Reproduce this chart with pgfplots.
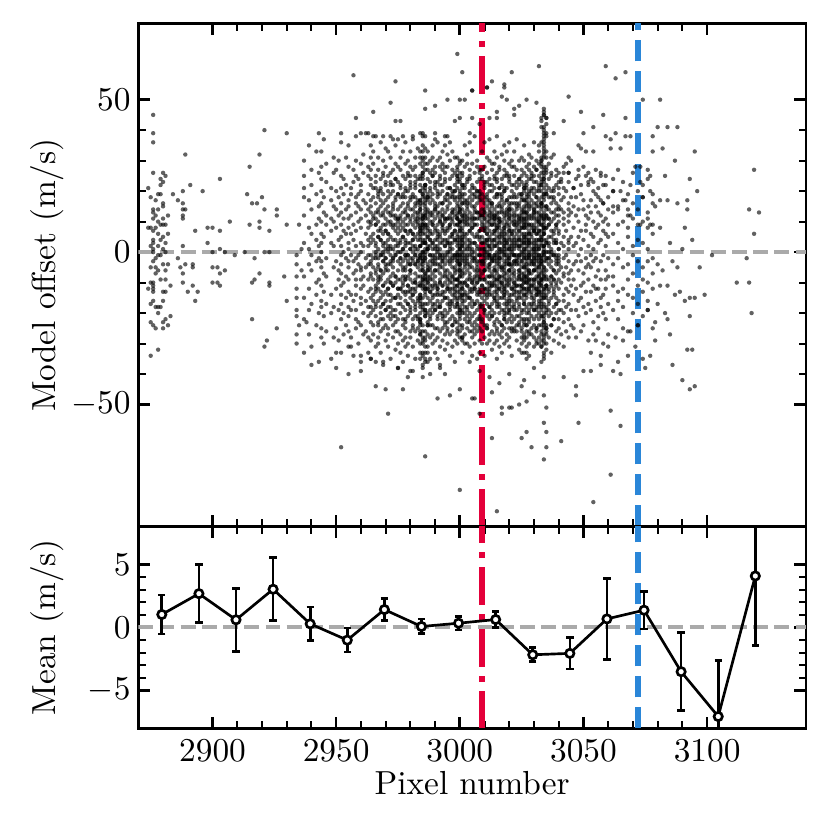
\documentclass[border=0pt]{standalone}
\usepackage{pgfplots}
\pgfplotsset{compat=1.18}
\usepackage{pgfplotstable}
\definecolor{vred}{HTML}{E4003A}
\definecolor{vblue}{HTML}{2A86D8}
\definecolor{zgray}{HTML}{AAAAAA}

\pgfplotstableread{
x y
2874 -12
2874 8
2874 21
2875 18
2875 8
2875 -10
2875 -17
2875 -23
2875 -34
2875 2
2875 -5
2876 45
2876 39
2876 36
2876 14
2876 13
2876 11
2876 7
2876 4
2876 3
2876 1
2876 0
2876 -3
2876 -10
2876 -11
2876 -12
2876 -13
2876 -16
2876 -24
2876 26
2877 12
2877 8
2877 -2
2877 -5
2877 -18
2877 -25
2877 17
2877 -7
2878 19
2878 10
2878 6
2878 2
2878 -1
2878 -6
2878 -18
2878 -20
2878 -32
2878 14
2879 24
2879 19
2879 9
2879 4
2879 -9
2879 -18
2879 -1
2879 22
2880 26
2880 23
2880 16
2880 15
2880 11
2880 9
2880 5
2880 1
2880 -13
2880 -16
2880 -23
2880 -25
2880 -4
2881 25
2881 9
2881 0
2881 -6
2881 -9
2881 -13
2881 -22
2881 3
2882 6
2882 -4
2882 -24
2882 12
2883 -11
2883 -21
2884 19
2886 17
2886 -2
2887 -5
2888 20
2888 16
2888 12
2888 11
2888 2
2888 -7
2888 -10
2888 14
2889 32
2889 14
2889 -4
2890 -13
2891 22
2892 -4
2892 -5
2892 -11
2893 7
2893 -16
2894 -13
2896 20
2898 8
2898 3
2900 8
2900 0
2900 -5
2900 -10
2902 -5
2902 -10
2903 24
2903 7
2903 1
2903 -7
2903 -11
2905 0
2905 -6
2907 10
2909 -1
2913 0
2914 19
2915 28
2915 9
2916 16
2916 -10
2916 -22
2917 -2
2917 -9
2918 16
2919 32
2919 10
2919 8
2919 -7
2920 18
2921 40
2921 14
2921 0
2921 -31
2922 -29
2923 7
2923 0
2923 -10
2923 -11
2926 14
2926 12
2926 -25
2929 -8
2930 39
2930 9
2930 -16
2934 -1
2934 -4
2934 -8
2934 -12
2934 -15
2934 -19
2934 -21
2934 -27
2934 -30
2935 9
2935 -24
2936 1
2936 -6
2937 25
2937 18
2938 -23
2940 -37
2943 39
2999 65
3001 59
2957 58
2974 56
3005 53
3021 59
3011 54
3013 56
2986 53
2972 49
2965 46
2958 44
2974 43
2976 43
2990 48
2995 50
3002 50
3000 50
2986 47
3018 54
3005 44
3032 61
3059 61
3063 57
3067 59
3018 55
3044 51
3074 50
3081 50
3049 46
3058 45
3054 41
3050 39
3042 43
3067 44
3080 41
3084 41
3088 41
3063 39
3061 34
3078 38
3078 33
3095 33
3119 27
3093 24
3096 20
3088 16
3092 17
3092 14
3117 14
3121 13
3119 6
3091 8
3094 4
3102 -1
3116 -2
3112 -10
3117 -10
3099 -14
3118 -20
3089 -13
3091 -16
3093 -15
3095 -15
3093 -21
3084 -22
3092 -32
3094 -32
3090 -42
3093 -45
3095 -44
3086 -37
3079 -29
3077 -34
3061 -52
3065 -57
3061 -73
3054 -82
3048 -56
3041 -62
3034 -68
3035 -64
3029 -64
3027 -59
3025 -61
3015 -85
3013 -61
3000 -78
2986 -67
2952 -64
2971 -53
2966 -44
2970 -45
2977 -45
2991 -48
2996 -47
3005 -48
3008 -53
3017 -51
3020 -51
3000 -45
2955 -40
2960 -39
2985 -41
2981 -39
3047 -47
3047 -44
3042 -41
3050 -39
3053 -39
3053 -33
3057 -37
3062 -39
3065 -40
3075 -38
3038 39
3044 31
3048 35
3049 34
3051 33
3054 33
3059 38
3061 37
3067 38
3069 38
3065 34
3071 28
3073 28
3076 27
3077 25
3073 23
3069 22
3065 20
3062 20
3059 22
3057 25
3052 26
3048 25
3044 26
3042 26
3041 23
3046 21
3052 23
3054 23
3056 18
3058 16
3062 15
3064 14
3067 17
3068 14
3069 12
3074 18
3077 20
3081 17
3084 17
3079 15
3076 11
3077 9
3073 9
3080 -4
3081 -11
3084 -11
3087 -14
3082 -6
3086 -3
3080 -17
3083 -20
3079 -23
3076 -19
3072 -24
3069 -26
3066 -29
3063 -28
3060 -31
3057 -34
3055 -29
3071 -31
3074 -35
3068 -34
3064 -36
3081 8
3085 3
3083 25
3087 30
3082 34
3085 -27
3088 -5
3090 1
3097 -5
2952 39
2960 39
2963 39
2965 38
2969 38
2972 38
2975 37
2977 38
2981 37
2985 39
2985 38
2990 39
2994 38
2998 43
3000 44
3004 39
3008 42
3012 44
3015 44
3022 47
2950 -33
2956 -31
2960 -34
2964 -35
2969 -36
2975 -38
2979 -41
2984 -35
2988 -40
2992 -38
2994 -40
3004 -36
3008 -39
3012 -41
3016 -43
3020 -40
3026 -42
3006 -48
3013 -46
3017 -53
3021 -51
3024 -50
3027 -49
3025 -44
3030 -46
3034 -47
3035 -51
3034 -56
3035 -59
3034 -41
3005 53
3011 54
3017 51
3019 50
3024 48
3027 50
3031 49
3022 45
3015 46
}\sparsetab

\pgfplotstableread{
x a b c d e f g h
2937 12 -8 30 -22 3 -15 21 -33
2939 -4 17 -27 8 35 -12 1 -19
2940 22 -6 -31 14 -1 27 -17 6
2942 -10 4 19 -24 33 -3 9 -14
2943 15 -20 2 26 -9 -36 11 -2
2944 28 10 -5 -16 3 20 -25 -11
2944 33 -28 6 -3 16 -18 24 0
2945 -7 13 -21 37 5 -13 -30 18
2946 9 -2 23 -17 -26 12 29 -8
2948 3 -14 17 -35 21 7 -20 11
2949 -18 26 -5 10 -28 15 2 31
2950 8 -12 20 -3 -25 14 -38 27
2951 -6 18 -19 4 30 -9 12 -29
2952 16 -1 -14 25 -22 5 36 -11
2952 -17 9 2 -33 13 -7 21 -4
2953 24 -20 7 -10 0 19 -27 11
2954 -2 14 -24 31 -15 6 -8 22
2955 11 -26 17 -5 -18 28 3 -13
2955 35 -9 -3 15 -21 1 -31 8
2956 -14 21 6 -28 12 -1 19 -19
2957 4 -7 27 -16 23 -34 9 -3
2958 -22 16 -11 2 38 -6 13 -25
2958 7 -19 25 -9 -2 18 -14 30
2959 19 -4 -23 10 -30 15 -1 24
2960 -9 29 3 -15 8 -24 20 -6
2960 14 -17 -5 22 -36 11 0 -12
2961 26 2 -20 -8 17 -11 32 -27
2962 -5 12 -16 39 -26 6 -2 16
2963 10 -28 19 -13 4 25 -18 -1
2963 -21 8 -9 28 -4 14 -33 2
2964 17 -3 22 -18 9 -29 35 -7
2964 -12 24 -1 13 -23 5 -15 31
2964 3 -8 15 -20 27 -35 10 -4
2965 21 -14 6 -27 33 -5 12 -19
2965 -9 18 -2 11 -24 29 -16 4
2966 13 -31 25 -7 2 -18 38 -11
2966 -1 9 -21 16 -6 23 -13 -36
2967 27 -4 14 -16 -28 7 19 -9
2967 5 -23 31 -2 10 -12 -30 20
2968 -18 12 -8 24 -1 -26 15 36
2968 8 -15 21 -33 4 17 -6 -20
2969 -3 30 -11 6 -22 13 0 -14
2969 16 -7 -25 19 2 -17 26 -37
2970 11 -19 3 28 -10 22 -29 -5
2970 -24 7 17 -13 34 -2 9 -16
2971 20 -9 -4 13 -31 25 -18 1
2971 -12 33 6 -21 15 -6 -27 10
2972 2 -16 23 -8 -35 12 19 -22
2972 26 -3 -14 9 -20 31 -10 5
2973 -7 15 -28 20 1 -11 37 -19
2973 14 -24 8 -2 27 -15 -5 22
2974 -15 4 29 -19 12 -32 18 -8
2974 9 -26 -1 17 -10 24 -21 35
2975 23 -12 10 -30 6 19 -3 -17
2975 -6 28 -22 14 -14 2 -38 11
2976 12 -20 31 -9 4 -27 18 -2
2976 -15 7 -33 22 -4 15 -12 27
2977 19 -6 -18 10 -29 25 1 -13
2977 -3 33 -11 16 -22 8 -36 5
2978 7 -25 21 -1 13 -16 29 -9
2978 24 -8 -14 3 -31 18 -5 11
2978 -19 14 2 -23 9 -2 36 -28
2979 16 -11 26 -17 -4 20 -30 6
2979 -8 30 -21 12 -13 -1 15 -34
2980 3 -18 10 28 -7 -26 22 -12
2980 21 -4 -15 7 33 -20 -9 17
2980 -13 18 -28 1 11 -6 25 -39
2981 9 -22 14 -10 38 -16 4 -3
2981 -24 6 27 -14 -2 19 -31 12
2982 15 -9 -19 23 -12 2 31 -26
2982 -1 25 -7 11 -35 16 -17 8
2982 28 -13 5 -21 18 -4 -10 21
2983 -16 11 -25 34 -5 13 -22 1
2983 6 -29 17 -8 24 -15 10 -3
2984 20 -2 -17 9 -27 29 -11 14
2984 -10 16 4 -33 13 -20 39 -6
2984 2 -14 22 -18 7 -24 17 -1
2984 25 -30 8 -15 31 -4 17 -22
2985 12 -5 28 -18 3 -30 19 -10
2984 -22 8 15 -2 33 -14 -26 6
2985 0 -38 21 -9 10 -17 25 -3
2986 17 -12 -31 4 -7 29 -20 13
2985 -15 24 7 -34 18 -1 -8 31
2984 5 -23 14 -11 -27 20 2 -16
2985 26 -6 -19 11 35 -28 9 -4
2986 -13 16 -36 1 22 -9 -21 8
2985 -33 30 -24 26 -37 16 -29 33
2986 14 -19 3 27 -8 -33 18 -2
2986 -11 22 -26 9 -3 15 -14 31
2986 6 -7 38 -21 12 -1 -29 20
2986 -28 12 -9 34 -19 3 22 -35
2987 -4 17 -12 24 -31 8 -17 2
2987 29 -10 5 -23 14 -6 19 -36
2987 -15 1 -20 11 33 -27 7 -9
2987 18 -24 1 -12 27 -33 9 -6
2988 18 -3 -16 26 -11 4 -24 13
2988 -8 30 10 -19 -1 21 -35 6
2988 2 -13 23 -5 16 -28 12 -21
2989 25 -18 -2 13 -30 9 -7 35
2989 -12 6 19 -24 3 -15 27 -4
2989 10 -27 -9 17 -20 31 1 -14
2990 -6 15 -33 8 22 -11 -3 28
2990 21 -1 11 -17 -25 14 -10 4
2990 -19 26 -14 2 37 -8 16 -29
2991 7 -21 30 -12 5 -2 -18 23
2991 -16 12 -6 19 -28 36 -11 1
2991 13 -4 -22 9 -13 20 -35 15
2992 -9 24 3 -26 11 -17 28 -1
2992 31 -14 -7 16 -31 6 -20 10
2992 -2 19 -18 5 25 -10 -5 -37
2993 16 -25 9 -3 -14 27 -22 7
2993 -20 3 22 -11 14 -1 33 -16
2993 8 -8 -29 20 -5 12 -13 29
2994 -13 28 -2 -19 6 18 -32 11
2994 23 -6 13 -15 35 -24 -4 2
2994 -7 10 -21 26 -10 4 17 -27
2995 4 -17 19 -1 -23 32 -12 14
2995 -25 15 -8 7 21 -30 3 -3
2995 17 -11 28 -20 -6 11 -15 38
2996 -3 21 -13 1 -34 16 -7 24
2996 12 -22 5 30 -16 -4 9 -18
2996 -10 8 -27 18 2 -19 36 -9
2997 27 -2 -14 11 -24 6 -31 19
2997 -17 14 3 -8 25 -12 10 -1
2997 6 -26 20 -16 -3 33 -21 13
2998 -11 18 -5 22 -29 9 -15 4
2998 20 -9 31 -2 -18 14 -36 7
2998 -1 -14 12 -23 17 -7 26 -12
2999 15 -20 4 -9 27 -13 9 -25
2999 -6 23 -30 11 -2 18 -16 2
2999 -26 5 16 -11 24 -3 -18 28
3000 8 -4 17 -12 2 -21 13 -7
2999 -15 21 -1 6 -27 11 -9 25
3000 3 -18 10 -3 29 -10 15 -24
3000 -8 14 -20 19 -5 1 -13 7
3001 22 -11 5 -16 12 -29 -2 16
3000 -19 9 -6 26 -14 4 20 -1
2999 0 -23 13 -9 31 -17 -4 11
3000 -28 24 -15 30 -22 10 -26 18
3001 19 -8 -24 12 4 -15 30 -3
3001 -12 25 7 -19 -33 16 -6 10
3001 2 -17 22 -1 14 -28 8 -10
3001 11 -14 -28 21 -7 26 3 -20
3002 -20 11 -5 28 -13 3 -30 17
3002 9 -2 16 -22 35 -10 -16 5
3002 -7 21 -27 6 -3 19 12 -14
3003 24 -15 1 -9 17 -25 -4 32
3003 -14 6 -19 15 -30 10 23 -1
3003 11 -23 29 -6 -11 2 -18 14
3004 -4 18 -12 25 3 -31 9 -20
3004 16 -9 -26 1 20 -5 36 -13
3004 -17 13 4 -15 -7 27 -22 7
3005 6 -21 15 -2 -28 12 -10 22
3005 -10 29 -16 8 17 -3 -34 1
3005 21 -5 10 -24 -13 33 -1 -18
3006 -2 15 -20 19 -9 -27 5 11
3006 13 -12 26 -6 38 -17 -3 -25
3006 -23 3 -8 14 -30 9 18 -11
3007 9 -16 20 -1 -22 16 -7 28
3007 -13 23 -4 -19 11 -35 13 2
3007 30 -10 6 -14 -3 20 -26 -6
3008 -8 12 -29 17 1 -12 24 -17
3008 18 -3 -18 7 27 -21 -9 13
3008 -1 26 11 -25 -14 5 -33 19
3009 14 -7 -22 10 27 -15 3 -30
3009 -9 19 1 -26 12 -4 33 -13
3009 5 -18 24 -3 -11 17 -23 8
3010 -16 9 -1 21 -28 13 -6 36
3010 22 -12 16 -20 4 -9 -34 11
3010 -3 28 -14 7 -19 1 18 -24
3011 10 -25 31 -8 -15 23 -2 15
3011 -21 4 -10 17 6 -30 12 -5
3011 26 -13 8 -1 -24 19 -17 3
3012 -6 16 -27 12 -12 30 -20 -1
3012 17 -2 5 -18 37 -8 9 -29
3012 -14 24 -22 2 -4 14 -11 20
3013 3 -19 13 -10 22 -26 29 -7
3013 -11 11 -3 27 -17 6 -32 16
3013 20 -8 -21 9 1 -14 15 -2
3014 -24 14 7 -6 25 -16 -9 33
3014 12 -27 18 -13 -1 10 -20 4
3014 -5 21 -15 29 -30 2 11 -10
3015 8 -11 26 -22 15 -4 -17 19
3015 -18 5 -7 12 -25 31 -1 -14
3015 23 -16 2 -29 9 -9 38 -3
3015 -2 13 -13 18 -35 24 -6 7
3016 15 -20 10 -2 28 -12 -27 6
3016 -9 27 -18 4 -5 16 -23 21
3016 1 -3 19 -15 11 -31 8 -8
3017 -13 22 -6 32 -19 0 14 -26
3017 19 -10 -24 7 -2 17 -15 10
3017 6 -28 15 -11 24 -5 -33 3
3018 -20 9 3 -17 13 -22 27 -4
3018 11 -1 -12 21 -30 8 -8 35
3018 -7 30 -19 2 16 -14 5 -21
3018 25 -15 12 -25 -3 20 -11 1
3019 -4 17 -29 14 -9 4 -20 26
3019 13 -23 6 -7 33 -18 10 -2
3019 -16 3 21 -13 1 -27 17 -10
3020 29 -6 -16 11 -22 15 -1 -31
3020 -10 18 9 -20 5 -11 24 -4
3020 4 -14 -3 25 -17 36 -25 12
3020 -19 8 16 -8 -28 2 13 -15
3021 16 -26 1 -12 20 -4 -18 28
3021 -1 12 -21 30 -7 10 -34 6
3021 22 -9 7 -16 14 -23 3 -5
3022 -12 25 -8 4 -26 18 -13 9
3022 7 -17 28 -3 11 -6 -22 16
3022 -25 2 -14 19 -1 33 -10 -19
3023 10 -4 18 -24 -9 14 -29 2
3023 -15 23 -1 8 27 -19 6 -11
3023 3 -13 -26 15 -3 21 -16 37
3024 -6 16 11 -21 4 -32 19 -8
3024 24 -11 -4 9 -17 1 30 -24
3024 -18 5 22 -14 15 -7 -2 12
3025 13 -28 6 -9 23 -15 10 -3
3025 -3 19 -19 27 -11 4 -25 17
3025 18 -1 -30 12 2 -22 31 -13
3025 -11 8 14 -5 -20 25 -7 -33
3026 5 -16 21 -2 30 -10 -14 9
3026 -22 11 -7 17 -27 6 15 -1
3026 26 -5 3 -19 -8 13 -24 20
3026 -9 14 -28 1 10 -17 35 -12
3026 22 -29 -14 8 -23 17 -33 4
3027 16 -8 -15 23 -3 8 -31 11
3027 -4 22 6 -12 17 -26 -1 28
3027 9 -20 -33 4 -10 19 -6 13
3027 -14 2 12 -24 25 -9 -18 -35
3027 21 -13 -2 10 -28 15 3 -22
3028 -7 27 -17 6 -12 32 -4 -26
3028 12 -2 19 -20 -30 9 -11 3
3028 -19 15 -6 14 4 -23 24 -9
3028 2 -10 29 -27 16 -1 -34 18
3029 24 -18 8 -4 -14 20 -21 5
3029 -11 6 -25 17 11 -7 31 -15
3029 15 -27 1 -13 26 -3 -9 21
3030 -2 13 -19 28 -6 -31 9 -17
3030 19 -9 16 -1 -24 4 36 -11
3030 -15 21 -10 7 -3 14 -28 2
3030 7 -4 25 -22 12 -16 1 -38
3031 -21 10 3 -14 30 -8 -19 15
3031 11 -25 18 -6 -12 23 -2 -29
3031 -5 16 -30 13 1 -13 27 6
3031 27 -1 -9 20 -18 8 -26 -3
3032 4 -20 12 -3 -28 17 -10 33
3032 -13 25 -14 9 6 -22 21 -7
3032 20 -11 1 -24 15 -5 -16 10
3032 -8 7 29 -17 -2 35 -30 -12
3033 14 -6 -21 18 -9 2 24 -27
3033 -18 23 5 -11 28 -15 -4 11
3033 9 -29 15 -2 -19 12 -36 20
3033 -3 31 -7 26 -13 4 -24 16
3033 36 -17 22 -31 41 7 -9 30
3034 40 12 -20 28 -5 35 -28 18
3033 5 -14 44 22 -9 -31 30 -1
3034 33 -22 8 -12 46 15 -25 2
3034 -3 26 -17 38 10 -8 -30 24
3035 20 -27 42 -2 14 -19 31 -11
3034 -15 36 6 -24 27 1 -6 45
3034 11 -33 19 39 -13 23 -21 8
3033 29 -4 -26 16 3 43 -16 -10
3034 -7 34 13 -29 25 -18 47 0
3034 17 -23 37 -1 9 -35 21 32
3035 44 -32 26 -15 38 3 -24 12
3034 31 -9 45 -27 6 19 -34 41
3035 12 -18 27 -6 -30 8 19 -11
3035 -3 22 -14 4 33 -25 -8 15
3035 28 -11 39 -25 15 -2 44 -20
3036 18 -9 5 -21 11 -2 29 -16
3036 -13 14 -28 24 -4 9 -19 2
3037 7 -24 20 -11 -1 16 -33 26
3037 25 -3 -15 10 -20 31 0 -8
3038 -6 17 -22 3 13 -12 21 -29
3038 11 -1 32 -18 -9 6 -14 18
3039 -17 9 -4 22 -26 14 -10 3
3039 4 -20 16 -7 27 -15 8 -2
3040 21 -12 -3 15 -22 1 -30 10
3040 -9 26 -16 6 -1 19 -25 12
3041 14 -5 24 -19 3 -10 17 -27
3042 -2 11 -23 18 -14 28 -7 5
3042 9 -16 2 -8 21 -31 13 -20
3043 -12 20 -1 29 -18 7 -5 -26
3044 16 -22 10 -3 4 -13 23 -9
3044 -7 3 -28 14 -17 26 1 12
3045 5 -11 18 -24 -6 13 -19 30
3046 -14 8 21 -4 -25 15 -9 2
3047 12 -19 3 24 -12 -3 18 -28
3048 -6 27 -16 10 -1 -21 5 14
3049 19 -3 -11 7 -26 22 -15 1
3050 -10 14 -24 4 17 -7 28 -18
3051 7 -20 12 -2 -13 25 -5 9
3052 -17 2 22 -9 11 -29 15 -4
3053 24 -13 -5 17 -19 6 -1 13
3054 -3 10 -23 1 20 -11 -27 5
3055 15 -8 8 -16 27 -2 -12 19
3056 -12 21 -6 13 -21 3 9 -25
3057 4 -15 17 -3 -9 12 -18 26
3058 -20 7 -1 22 -14 16 -30 10
3059 11 -6 25 -12 2 -22 6 -9
3060 -8 18 -17 5 -27 9 14 -2
3062 6 -11 20 -4 -19 13 -8 24
3064 -13 3 15 -22 9 -2 -16 27
3066 10 -18 -5 17 -12 23 1 -25
3068 -4 12 -26 8 19 -9 -14 5
3070 16 -7 2 -15 26 -20 11 -1
3072 -11 20 -17 4 -3 14 -24 9
3074 3 -13 10 -21 18 -5 -9 22
3076 -16 8 24 -10 1 -19 13 -3
3078 9 -2 -12 16 -25 6 -7 19
2966 3 -17 11 -2 21 -12 0 9
2967 -5 18 -10 1 13 -24 -8 5
2968 20 -1 -6 4 -13 7 -22 -9
2969 -3 12 25 -11 -1 9 -17 3
2970 7 -19 -2 14 -6 1 23 -4
2971 -12 4 18 -25 2 -14 6 0
2972 1 -4 13 -18 -10 22 -1 10
2973 16 -11 -3 9 4 -21 12 -2
2974 -8 2 7 -1 -23 11 -15 24
2975 11 -26 0 -12 8 3 -9 19
2976 3 -17 11 -2 21 -12 0 9
2977 -5 18 -10 1 13 -24 -8 5
2978 20 -1 -6 4 -13 7 -22 -9
2979 -3 12 25 -11 -1 9 -17 3
2980 7 -19 -2 14 -6 1 23 -4
2981 -12 4 18 -25 2 -14 6 0
2982 1 -4 13 -18 -10 22 -1 10
2983 16 -11 -3 9 4 -21 12 -2
2984 -8 2 7 -1 -23 11 -15 24
2985 11 -26 0 -12 8 3 -9 19
2986 3 -17 11 -2 21 -12 0 9
2987 -5 18 -10 1 13 -24 -8 5
2988 20 -1 -6 4 -13 7 -22 -9
2989 -3 12 25 -11 -1 9 -17 3
2990 7 -19 -2 14 -6 1 23 -4
2991 -12 4 18 -25 2 -14 6 0
2992 1 -4 13 -18 -10 22 -1 10
2993 16 -11 -3 9 4 -21 12 -2
2994 -8 2 7 -1 -23 11 -15 24
2995 11 -26 0 -12 8 3 -9 19
2996 3 -17 11 -2 21 -12 0 9
2997 -5 18 -10 1 13 -24 -8 5
2998 20 -1 -6 4 -13 7 -22 -9
2999 -3 12 25 -11 -1 9 -17 3
3000 7 -19 -2 14 -6 1 23 -4
3001 -12 4 18 -25 2 -14 6 0
3002 1 -4 13 -18 -10 22 -1 10
3003 16 -11 -3 9 4 -21 12 -2
3004 -8 2 7 -1 -23 11 -15 24
3005 11 -26 0 -12 8 3 -9 19
3006 3 -17 11 -2 21 -12 0 9
3007 -5 18 -10 1 13 -24 -8 5
3008 20 -1 -6 4 -13 7 -22 -9
3009 -3 12 25 -11 -1 9 -17 3
3010 7 -19 -2 14 -6 1 23 -4
3011 -12 4 18 -25 2 -14 6 0
3012 1 -4 13 -18 -10 22 -1 10
3013 16 -11 -3 9 4 -21 12 -2
3014 -8 2 7 -1 -23 11 -15 24
3015 11 -26 0 -12 8 3 -9 19
3016 3 -17 11 -2 21 -12 0 9
3017 -5 18 -10 1 13 -24 -8 5
3018 20 -1 -6 4 -13 7 -22 -9
3019 -3 12 25 -11 -1 9 -17 3
3020 7 -19 -2 14 -6 1 23 -4
3021 -12 4 18 -25 2 -14 6 0
3022 1 -4 13 -18 -10 22 -1 10
3023 16 -11 -3 9 4 -21 12 -2
3024 -8 2 7 -1 -23 11 -15 24
3025 11 -26 0 -12 8 3 -9 19
3026 3 -17 11 -2 21 -12 0 9
3027 -5 18 -10 1 13 -24 -8 5
3028 20 -1 -6 4 -13 7 -22 -9
3029 -3 12 25 -11 -1 9 -17 3
3030 7 -19 -2 14 -6 1 23 -4
3031 -12 4 18 -25 2 -14 6 0
3032 1 -4 13 -18 -10 22 -1 10
3033 16 -11 -3 9 4 -21 12 -2
3034 -8 2 7 -1 -23 11 -15 24
3035 11 -26 0 -12 8 3 -9 19
3036 3 -17 11 -2 21 -12 0 9
3037 -5 18 -10 1 13 -24 -8 5
3038 20 -1 -6 4 -13 7 -22 -9
3039 -3 12 25 -11 -1 9 -17 3
3040 7 -19 -2 14 -6 1 23 -4
3010 11 -6 0 -12 8 3 -9 13
3012 -8 2 7 -1 -13 11 -5 4
3014 6 -11 -3 9 4 -6 12 -2
3016 1 -4 13 -8 -10 5 -1 10
3018 -12 4 8 -5 2 -14 6 0
3020 7 -9 -2 14 -6 1 11 -4
3022 -3 12 5 -11 -1 9 -7 3
3024 10 -1 -6 4 -13 7 2 -9
3026 -5 8 -10 1 13 -4 -8 5
3028 3 -7 11 -2 6 -12 0 9
3030 11 -6 0 -12 8 3 -9 13
3032 -8 2 7 -1 -13 11 -5 4
2985 6 -11 -3 9 4 -6 12 -2
3000 1 -4 13 -8 -10 5 -1 10
3034 -12 4 8 -5 2 -14 6 0
}\densetab

\pgfplotstableread{
x y e
2879.5 1.03 1.55
2894.5 2.68 2.29
2909.5 0.61 2.50
2924.5 3.03 2.49
2939.5 0.29 1.34
2954.5 -1.00 0.95
2969.5 1.42 0.87
2984.5 0.08 0.58
2999.5 0.34 0.55
3014.5 0.63 0.65
3029.5 -2.16 0.55
3044.5 -2.05 1.25
3059.5 0.68 3.20
3074.5 1.37 1.50
3089.5 -3.50 3.08
3104.5 -7.05 4.45
3119.5 4.08 5.50
}\meantab

\pgfplotsset{
  panel/.style={
    scale only axis, width=200.3pt,
    xmin=2870, xmax=3140,
    axis line style={line width=0.8pt},
    tick align=inside, xtick pos=both, ytick pos=both,
    xtick={2900,2950,3000,3050,3100},
    minor x tick num=4, minor y tick num=4,
    major tick length=3.5pt, minor tick length=2.2pt,
    every major tick/.append style={line width=0.8pt, black},
    every minor tick/.append style={line width=0.6pt, black},
    /pgf/number format/1000 sep={},
    yticklabel style={xshift=1.2pt},
    ylabel style={at={(axis description cs:-0.137,0.5)}, anchor=center},
    clip=true,
  },
  scat/.style={only marks, mark=*, mark size=0.66pt,
    mark options={fill=black, draw opacity=0, fill opacity=0.62}},
}

\begin{document}
\begin{tikzpicture}
\useasboundingbox (0,0) rectangle (249pt,249pt);
\begin{axis}[panel, at={(41.5pt,91.05pt)}, anchor=south west,
  height=150.9pt, ymin=-90, ymax=75,
  ytick={-50,0,50}, xticklabels={},
  ylabel={Model offset (m/s)}]
\addplot[zgray, line width=1.2pt, dash pattern=on 4.44pt off 1.92pt] coordinates {(2870,0) (3140,0)};
\addplot[scat] table[x=x,y=y]{\sparsetab};
\pgfplotsinvokeforeach{a,b,c,d,e,f,g,h}{
  \addplot[scat] table[x=x,y=#1]{\densetab};
}
\addplot[vred, line width=1.75pt, dash pattern=on 11.2pt off 2.8pt on 1.75pt off 2.8pt] coordinates {(3009,-90) (3009,75)};
\addplot[vblue, line width=1.75pt, dash pattern=on 6.5pt off 2.8pt] coordinates {(3072,-90) (3072,75)};
\end{axis}

\begin{axis}[panel, at={(41.5pt,30.45pt)}, anchor=south west,
  height=60.6pt, ymin=-8, ymax=8,
  ytick={-5,0,5},
  xlabel={Pixel number},
  xlabel style={at={(axis description cs:0.5,-0.272)}, anchor=center},
  ylabel={Mean (m/s)}]
\addplot[zgray, line width=1.2pt, dash pattern=on 4.44pt off 1.92pt] coordinates {(2870,0) (3140,0)};
\addplot[vred, line width=1.75pt, dash pattern=on 11.2pt off 2.8pt on 1.75pt off 2.8pt] coordinates {(3009,-8) (3009,8)};
\addplot[vblue, line width=1.75pt, dash pattern=on 6.5pt off 2.8pt] coordinates {(3072,-8) (3072,8)};
\addplot[black, line width=0.8pt, mark=*, mark size=1.25pt,
  mark options={fill=white, draw=black, line width=0.8pt},
  error bars/.cd, y dir=both, y explicit,
  error bar style={line width=0.8pt},
  error mark options={rotate=90, mark size=1.1pt, line width=0.8pt}]
  table[x=x, y=y, y error=e]{\meantab};
\end{axis}
\end{tikzpicture}
\end{document}
